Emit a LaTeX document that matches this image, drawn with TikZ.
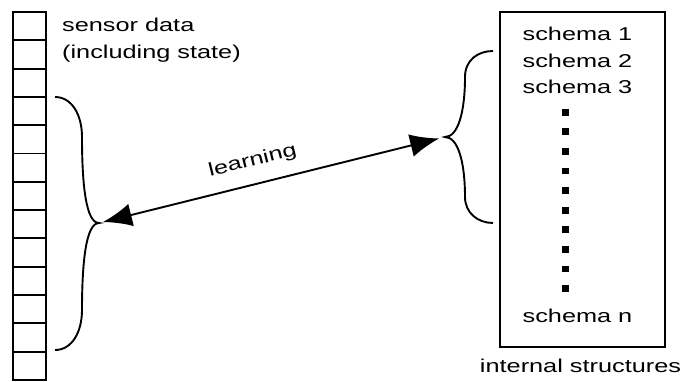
\documentclass[tikz,border=0pt]{standalone}
\usepackage{fontspec}
\setmainfont{Liberation Sans}[FakeStretch=1.36]
\usetikzlibrary{arrows.meta}
\tikzset{
  cell/.style={draw,line width=1.9pt,minimum width=33pt,minimum height=28.3pt,inner sep=0pt},
  lbl/.style={inner sep=0pt,anchor=base},
  brace/.style={line width=1.9pt}
}
\begin{document}
\begin{tikzpicture}[x=1pt,y=-1pt,font=\fontsize{18.6}{26.5}\selectfont]
\useasboundingbox (0,0) rectangle (688,381);
\foreach \i in {0,...,12}
  \node[cell] (c\i) at (29.8,{26.15+28.3*\i}) {};
\node[lbl,anchor=base west] (sensor) at (62,31) {sensor data};
\node[lbl,anchor=base west] (state) at (62,58) {(including state)};

\node[draw,line width=1.9pt,minimum width=165pt,minimum height=335pt,inner sep=0pt] (box) at (582.5,179.5) {};
\node[lbl] (s1) at (577.5,40.7) {schema 1};
\node[lbl] (s2) at (577.5,67) {schema 2};
\node[lbl] (s3) at (577.5,93.5) {schema 3};
\node[lbl] (sn) at (577.5,322) {schema n};
\node[lbl] (internal) at (580.5,372) {internal structures};
\foreach \k in {0,...,9}
  \fill (561.7,{108.7+19.6*\k}) rectangle +(6.8,6.8);

\coordinate (ltip) at (99,223);
\coordinate (rtip) at (445,137);
\draw[brace] (55,97) .. controls (72,97) and (82,115) .. (82,137)
  .. controls (82,185) and (86,223) .. (ltip)
  .. controls (86,223) and (82,262) .. (82,310)
  .. controls (82,332) and (72,350) .. (55,350);
\draw[brace] (493,51) .. controls (478,51) and (465,60) .. (465,77)
  .. controls (465,112) and (458,137) .. (rtip)
  .. controls (458,137) and (465,162) .. (465,197)
  .. controls (465,213) and (478,223) .. (493,223);

\draw[line width=1.9pt,{Latex[length=29pt,width=23pt]}-{Latex[length=29pt,width=23pt]},shorten <=4pt,shorten >=6pt] (ltip) -- node[pos=0.46,sloped,above=10pt] {learning} (rtip);
\end{tikzpicture}
\end{document}
